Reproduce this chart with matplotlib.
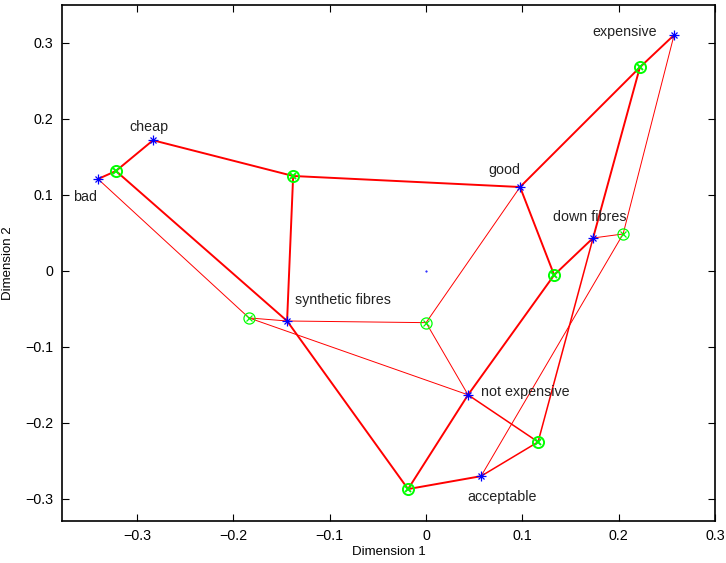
import numpy as np
import matplotlib.pyplot as plt

# attribute points (blue stars)
attr_names = ['bad', 'cheap', 'good', 'expensive', 'down fibres',
              'synthetic fibres', 'not expensive', 'acceptable']
attr_x = [-0.3406, -0.2835, 0.0976, 0.2575, 0.1734, -0.1443, 0.0436, 0.0571]
attr_y = [0.121, 0.172, 0.1105, 0.3105, 0.0434, -0.0658, -0.163, -0.270]

# object points (green circles)
obj_x = [-0.322, -0.138, 0.133, 0.222, 0.2046, -0.1838, 0.0, 0.1163, -0.0187]
obj_y = [0.1316, 0.125, -0.0053, 0.268, 0.0487, -0.0618, -0.068, -0.225, -0.287]

# attributes linked to each object
links = [[0, 1, 5], [1, 2, 5], [2, 4, 6], [2, 3, 4], [3, 4, 7],
         [0, 5, 6], [5, 2, 6], [6, 7, 4], [5, 7, 6]]

# line width per object (thick / thin polygons)
obj_lw = [1.4, 1.4, 1.4, 1.4, 0.7, 0.7, 0.7, 1.1, 1.4]

# label offsets in pixels and alignment
lab_off = [(-13, -18), (-4, 13), (-16, 17), (-49, 3), (-3, 21), (8, 21), (13, 3), (21, -21)]
lab_ha = ['center', 'center', 'center', 'center', 'center', 'left', 'left', 'center']

plt.rcParams['font.family'] = ['Liberation Sans', 'DejaVu Sans']

fig = plt.figure(figsize=(7.26, 5.63), dpi=100)
ax = fig.add_axes([62/726, 42/563, 653/726, 516/563])

for i, lk in enumerate(links):
    for a in lk:
        ax.plot([obj_x[i], attr_x[a]], [obj_y[i], attr_y[a]], color='red',
                lw=obj_lw[i], zorder=2)

for i in range(len(obj_x)):
    mw = 1.4 if obj_lw[i] > 1.0 else 0.9
    ax.plot(obj_x[i], obj_y[i], 'o', ms=8, mfc='none', mec=(0, 1, 0), mew=mw, zorder=3)
    ax.plot(obj_x[i], obj_y[i], 'x', ms=5, mec=(0, 1, 0), mew=mw, zorder=3)

ax.plot(attr_x, attr_y, '+', ms=7, color='blue', mew=0.9, ls='none', zorder=4)
ax.plot(attr_x, attr_y, 'x', ms=5, color='blue', mew=0.9, ls='none', zorder=4)
ax.plot([0], [0], '.', ms=1, color='blue')

for i, name in enumerate(attr_names):
    ax.annotate(name, (attr_x[i], attr_y[i]), xytext=lab_off[i], textcoords='offset pixels',
                ha=lab_ha[i], va='center', fontsize=10.3, color='#222222')

ax.set_xlim(-0.378, 0.3)
ax.set_ylim(-0.329, 0.35)
ax.set_xticks(np.arange(-0.3, 0.31, 0.1))
ax.set_yticks(np.arange(-0.3, 0.31, 0.1))
ax.set_xticklabels(['\u22120.3', '\u22120.2', '\u22120.1', '0', '0.1', '0.2', '0.3'])
ax.set_yticklabels(['\u22120.3', '\u22120.2', '\u22120.1', '0', '0.1', '0.2', '0.3'])
ax.tick_params(direction='in', top=True, right=True, length=5, labelsize=10.3, pad=6)
for s in ax.spines.values():
    s.set_linewidth(1.2)
ax.set_xlabel('Dimension 1', fontsize=9.5, labelpad=2)
ax.set_ylabel('Dimension 2', fontsize=9.5, labelpad=8)

fig.savefig('out.png', dpi=100)
